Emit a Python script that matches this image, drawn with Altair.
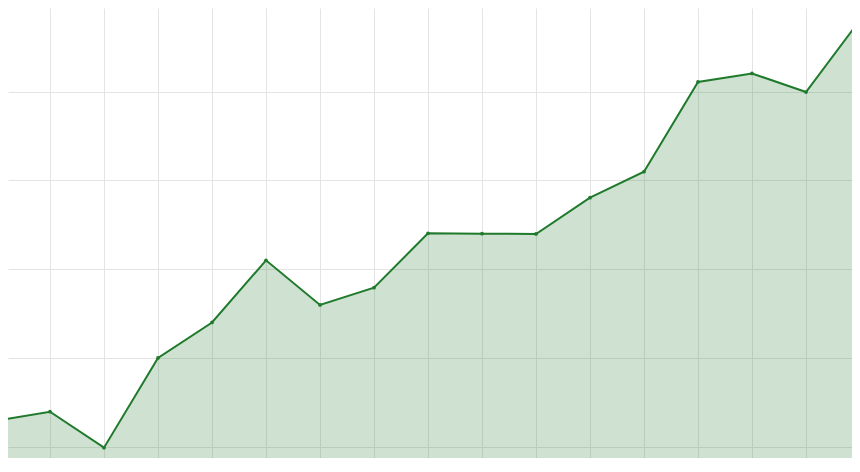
import altair as alt
import pandas as pd

idx = list(range(17))
values = [22.93, 23.94, 19.89, 30.0, 34.0, 41.0, 35.97, 37.92, 44.05, 44.0,
          43.97, 48.06, 50.99, 61.1, 62.06, 59.97, 68.08]
x_grid = list(range(1, 16))
y_grid = [20, 30, 40, 50, 60]

df = pd.DataFrame({"i": idx, "v": values})

W, H = 844, 450
x_lo = (8 + 4) / 54
x_hi = (8 + W + 4) / 54
x_scale = alt.Scale(domain=[x_lo, x_hi], nice=False, zero=False)
y_top = 20 + (446.7 - 8) / 8.874
y_bot = 20 + (446.7 - 8 - H) / 8.874
y_scale = alt.Scale(domain=[y_bot, y_top], nice=False, zero=False)

x_enc = alt.X("i:Q", scale=x_scale,
              axis=alt.Axis(values=x_grid, labels=False, ticks=False, domain=False,
                            title=None, grid=True, gridColor="#e4e4e4", gridWidth=1))
y_enc = alt.Y("v:Q", scale=y_scale,
              axis=alt.Axis(values=y_grid, labels=False, ticks=False, domain=False,
                            title=None, grid=True, gridColor="#e4e4e4", gridWidth=1))

area = alt.Chart(df).mark_area(color="#2e7d32", opacity=0.23, clip=True).encode(
    x=x_enc, y=y_enc
)
line = alt.Chart(df).mark_line(color="#1f7a2c", strokeWidth=2, clip=True,
                               point=alt.OverlayMarkDef(color="#1f7a2c", size=14, filled=True, clip=True)).encode(
    x=alt.X("i:Q", scale=x_scale), y=alt.Y("v:Q", scale=y_scale)
)

chart = (area + line).properties(
    width=W, height=H, padding=0, autosize=alt.AutoSizeParams(type="none")
).configure_view(stroke=None)

chart.save("out.html", embed_options={"renderer": "svg", "actions": False})
